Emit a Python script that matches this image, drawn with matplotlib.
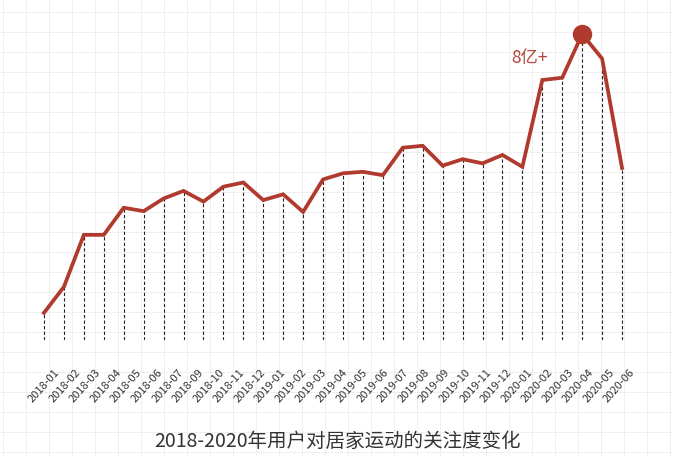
import matplotlib
matplotlib.use("Agg")
import matplotlib.pyplot as plt
import numpy as np

plt.rcParams['font.family'] = ['Noto Sans CJK SC', 'DejaVu Sans']

# 关注度（单位：亿，按图估读）
values = [0.71, 1.39, 2.75, 2.75, 3.46, 3.37, 3.70, 3.90, 3.62, 4.01,
          4.12, 3.66, 3.81, 3.35, 4.20, 4.36, 4.40, 4.31, 5.03, 5.08,
          4.56, 4.73, 4.62, 4.84, 4.53, 6.80, 6.86, 8.00, 7.36, 4.50]
month_labels = ['2018-01', '2018-02', '2018-03', '2018-04', '2018-05', '2018-06',
                '2018-07', '2018-09', '2018-10', '2018-11', '2018-12',
                '2019-01', '2019-02', '2019-03', '2019-04', '2019-05', '2019-06',
                '2019-07', '2019-08', '2019-09', '2019-10', '2019-11', '2019-12',
                '2020-01', '2020-02', '2020-03', '2020-04', '2020-05', '2020-06']
peak_text = '8亿+'
title = '2018-2020年用户对居家运动的关注度变化'

RED = '#b03a2e'
W, H = 673, 457

fig = plt.figure(figsize=(W / 100, H / 100), dpi=100)
fig.patch.set_facecolor('white')

# faint graph-paper background
bg = fig.add_axes([0, 0, 1, 1])
bg.set_xlim(0, W)
bg.set_ylim(H, 0)
for gx in np.arange(3, W, 23):
    bg.axvline(gx, color='#efefef', lw=0.7, zorder=0)
for gy in np.arange(12, H, 20):
    bg.axhline(gy, color='#efefef', lw=0.7, zorder=0)
bg.axis('off')

ax = fig.add_axes([34 / W, 117 / H, 599 / W, 320 / H])
ax.patch.set_alpha(0)
x = np.arange(len(values))
ax.set_xlim(-0.5, len(values) - 0.5)
ax.set_ylim(0, 8.37)

ax.vlines(x, 0, values, colors='#222222', linestyles=(0, (3, 2)), lw=0.8, zorder=2)
ax.plot(x, values, color=RED, lw=2.7, solid_joinstyle='miter', zorder=3)

peak = int(np.argmax(values))
ax.plot(peak, values[peak], 'o', color=RED, ms=13, zorder=4)
ax.annotate(peak_text, (peak, values[peak]), xytext=(-38, -17), textcoords='offset points',
            ha='center', va='center', fontsize=12.5, color='#b5473a')

ax.set_xticks(np.linspace(0.7, 29.55, len(month_labels)))
ax.set_xticklabels(month_labels, rotation=48, ha='right', va='center',
                   rotation_mode='anchor', fontsize=8, color='#333333')
ax.tick_params(axis='x', length=0, pad=22)
ax.set_yticks([])
for s in ax.spines.values():
    s.set_visible(False)

fig.text(338 / W, 1 - 441 / H, title, ha='center', va='center', fontsize=14, color='#333333')

fig.savefig('out.png', dpi=100, facecolor='white')
